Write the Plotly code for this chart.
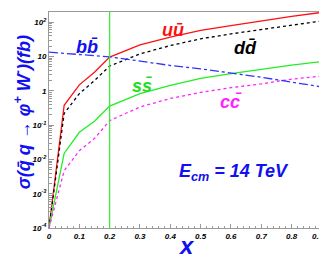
import plotly.graph_objects as go

x = [0.0, 0.05, 0.1, 0.15, 0.2, 0.3, 0.4, 0.5, 0.6, 0.7, 0.8, 0.9]
uu = [1e-4, 0.38, 1.5, 3.5, 9.7, 22, 37, 58, 80, 112, 150, 195]
dd = [1e-4, 0.22, 0.83, 2.0, 5.3, 12, 21, 33, 46, 62, 84, 110]
ss = [1e-4, 0.015, 0.062, 0.13, 0.36, 0.83, 1.45, 2.3, 3.2, 4.3, 5.6, 7.2]
cc = [1e-4, 0.0047, 0.018, 0.041, 0.135, 0.34, 0.6, 0.9, 1.24, 1.6, 2.2, 2.7]
bb_x = [0.0, 0.2, 0.3, 0.4, 0.5, 0.6, 0.7, 0.8, 0.9]
bb = [13.5, 9.8, 7.4, 5.5, 4.4, 3.4, 2.5, 1.8, 1.3]
cut_x = 0.2

x_ticks = [0, 0.1, 0.2, 0.3, 0.4, 0.5, 0.6, 0.7, 0.8, 0.9]
x_ticktext = ["0", "0.1", "0.2", "0.3", "0.4", "0.5", "0.6", "0.7", "0.8",
              "0.9\u00a0\u00a0\u00a0\u00a0"]
y_ticks = [1e-4, 1e-3, 1e-2, 1e-1, 1, 10, 100]
y_ticktext = ["10<sup>-4</sup>", "10<sup>-3</sup>", "10<sup>-2</sup>", "10<sup>-1</sup>",
              "1", "10", "10<sup>2</sup>"]

FONT = "Liberation Sans, Arial, sans-serif"
BLUE = "#1010f0"

fig = go.Figure()
fig.add_trace(go.Scatter(x=x, y=uu, mode="lines", line=dict(color="#ff1010", width=1.3)))
fig.add_trace(go.Scatter(x=x, y=dd, mode="lines", line=dict(color="black", width=1.3, dash="dot")))
fig.add_trace(go.Scatter(x=x, y=ss, mode="lines", line=dict(color="#22ee22", width=1.3)))
fig.add_trace(go.Scatter(x=x, y=cc, mode="lines", line=dict(color="#ff22ff", width=1.3, dash="dot")))
fig.add_trace(go.Scatter(x=bb_x, y=bb, mode="lines", line=dict(color="#3333ff", width=1.3, dash="dashdot")))

fig.add_shape(type="line", xref="x", yref="paper", x0=cut_x, x1=cut_x, y0=0, y1=1,
              line=dict(color="#33ee33", width=1.2))

def lab(text, px, py, color, size):
    fig.add_annotation(text="<b><i>" + text + "</i></b>", xref="paper", yref="paper",
                       x=(px - 41) / 280, y=(220 - py) / 217, showarrow=False,
                       font=dict(family=FONT, size=size, color=color),
                       xanchor="center", yanchor="middle")

lab("bb\u0304", 80, 38, BLUE, 18)
lab("uu\u0304", 168, 21, "#ff1010", 18)
lab("dd\u0304", 243, 39, "black", 18)
lab("ss\u0304", 136, 77, "#22dd22", 18)
lab("cc\u0304", 228, 93, "#ff22ff", 18)
lab("E<sub>cm</sub> = 14 TeV", 231, 164, BLUE, 18)
lab("x", 182, 238, BLUE, 24)

fig.add_annotation(text="<b><i>\u03c3(q\u0304 q \u2192 \u03c6<sup>+</sup> W<sup>-</sup>)(fb)</i></b>",
                   xref="paper", yref="paper", x=(14 - 41) / 280, y=(220 - 104) / 217,
                   textangle=-90, showarrow=False, xanchor="center", yanchor="middle",
                   font=dict(family=FONT, size=18, color=BLUE))

fig.update_layout(
    width=327, height=260, margin=dict(l=41, r=6, t=3, b=40),
    paper_bgcolor="white", plot_bgcolor="white", showlegend=False,
)
fig.update_xaxes(range=[0, 0.9002], showgrid=False, zeroline=False,
                 showline=True, linecolor="#999", linewidth=1, mirror=True,
                 ticks="inside", ticklen=4, tickcolor="#999",
                 tickvals=x_ticks, ticktext=["<b><i>" + t + "</i></b>" for t in x_ticktext],
                 tickfont=dict(family=FONT, size=8, color="black"),
                 ticklabeloverflow="allow",
                 minor=dict(ticks="inside", ticklen=2, dtick=0.02, tickcolor="#999", showgrid=False))
fig.update_yaxes(type="log", range=[-4, 2.301], showgrid=False, zeroline=False,
                 showline=True, linecolor="#999", linewidth=1, mirror=True,
                 ticks="inside", ticklen=5, tickcolor="#999",
                 tickvals=y_ticks, ticktext=["<b><i>" + t + "</i></b>" for t in y_ticktext],
                 tickfont=dict(family=FONT, size=8, color="black"),
                 minor=dict(ticks="inside", ticklen=3, dtick="D1", tickcolor="#999", showgrid=False))

fig.write_html("out.html")
